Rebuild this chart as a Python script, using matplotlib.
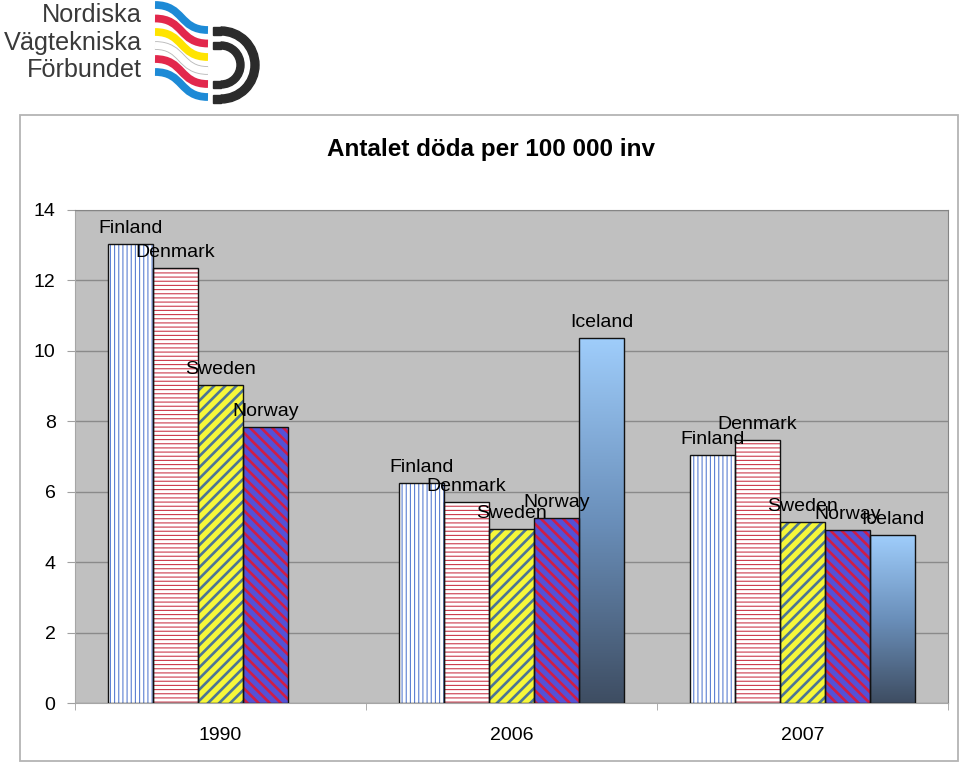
import numpy as np
import matplotlib
matplotlib.use("Agg")
import matplotlib.pyplot as plt
from matplotlib.patches import Rectangle, Wedge, PathPatch
from matplotlib.path import Path
from matplotlib.colors import LinearSegmentedColormap

plt.rcParams['font.family'] = ['Liberation Sans', 'DejaVu Sans']

# data
years = ['1990', '2006', '2007']
countries = ['Finland', 'Denmark', 'Sweden', 'Norway', 'Iceland']
finland = [13.03, 6.26, 7.05]
denmark = [12.35, 5.72, 7.47]
sweden = [9.04, 4.93, 5.14]
norway = [7.85, 5.25, 4.91]
iceland = [np.nan, 10.36, 4.77]
series = [finland, denmark, sweden, norway, iceland]

# styles: face, hatch, hatch colour, hatch width
styles = [
    ('white', '||||', '#5b7fd2', 0.8),
    ('white', '----', '#cc3a4c', 0.8),
    ('#f6f73a', '///', '#4d7596', 1.9),
    ('#5451d6', '\\\\\\', '#cf1d46', 1.9),
    (None, None, None, None),
]

fig = plt.figure(figsize=(9.6, 7.64), dpi=100)

# background layer: logo + chart frame (pixel coords)
bg = fig.add_axes([0, 0, 1, 1], zorder=0)
bg.set_xlim(0, 960)
bg.set_ylim(764, 0)
bg.axis('off')
bg.add_patch(Rectangle((20, 115), 938, 646, facecolor='white', edgecolor='#b4b4b4', lw=1.3))

for txt, yb in [('Nordiska', 22), ('Vägtekniska', 50), ('Förbundet', 77)]:
    bg.text(142, yb, txt, ha='right', va='baseline', fontsize=18.2, color='#3a3a3a')

stripe_cols = ['#1d8ad6', '#e2284c', '#ffe400', 'white', '#e2284c', '#1d8ad6']
stripe_y = [5, 18.5, 32, 45.5, 59, 72]
for c, y0 in zip(stripe_cols, stripe_y):
    p = Path([(155, y0), (184, y0), (179, y0 + 25), (208, y0 + 25)],
             [Path.MOVETO, Path.CURVE4, Path.CURVE4, Path.CURVE4])
    if c == 'white':
        bg.add_patch(PathPatch(p, facecolor='none', edgecolor='#bbbbbb', lw=6.3, capstyle='butt'))
        bg.add_patch(PathPatch(p, facecolor='none', edgecolor='white', lw=5.0, capstyle='butt'))
    else:
        bg.add_patch(PathPatch(p, facecolor='none', edgecolor=c, lw=5.6, capstyle='butt'))

dk = '#2b2b2b'
bg.add_patch(Wedge((221, 65), 38, -90, 90, width=8, color=dk))
bg.add_patch(Rectangle((213, 27), 8, 8, color=dk))
bg.add_patch(Rectangle((213, 95), 8, 8, color=dk))
bg.add_patch(Wedge((221, 65), 23, -90, 90, width=7, color=dk))
bg.add_patch(Rectangle((213, 42), 8, 7, color=dk))
bg.add_patch(Rectangle((213, 81), 8, 7, color=dk))

fig.text(0.511, 0.804, 'Antalet döda per 100 000 inv', ha='center', va='center',
         fontsize=17.5, fontweight='bold')

# main chart
ax = fig.add_axes([75 / 960, 61 / 764, 873 / 960, 493 / 764], zorder=1)
ax.set_facecolor('#c0c0c0')

x = np.arange(len(years))
w = 0.155
grad_cmap = LinearSegmentedColormap.from_list('ice', ['#3e4d62', '#6a8fba', '#9fcdfb'])

for i, (name, vals) in enumerate(zip(countries, series)):
    vals = np.array(vals, dtype=float)
    ok = ~np.isnan(vals)
    pos = (x + (i - 2) * w)[ok]
    vals = vals[ok]
    face, hatch, hcol, hlw = styles[i]
    if face is not None:
        with plt.rc_context({'hatch.linewidth': hlw}):
            bars = ax.bar(pos, vals, w, color=face, edgecolor=hcol, hatch=hatch, lw=0, zorder=2)
        for b in bars:
            try:
                b.set_hatch_linewidth(hlw)
            except AttributeError:
                pass
    else:
        grad = np.linspace(0, 1, 256).reshape(-1, 1)
        for p, v in zip(pos, vals):
            ax.imshow(grad, extent=[p - w / 2, p + w / 2, 0, v], origin='lower',
                      aspect='auto', cmap=grad_cmap, zorder=2)
    ax.bar(pos, vals, w, facecolor='none', edgecolor='#111111', lw=1.0, zorder=3)
    for p, v in zip(pos, vals):
        ax.annotate(name, (p, v), xytext=(0, 5), textcoords='offset points',
                    ha='center', va='bottom', fontsize=14, zorder=4)

ax.set_xlim(-0.5, 2.5)
ax.set_ylim(0, 14)
ax.set_yticks(np.arange(0, 15, 2))
ax.set_xticks(x)
ax.set_xticklabels(years)
ax.set_xticks([-0.5, 0.5, 1.5, 2.5], minor=True)
ax.tick_params(axis='x', which='major', length=0, pad=17, labelsize=14)
ax.tick_params(axis='x', which='minor', length=5, color='#a0a0a0')
ax.tick_params(axis='y', length=6, color='#a0a0a0', pad=8, labelsize=14)
ax.yaxis.grid(True, color='#8a8a8a', lw=1)
ax.set_axisbelow(True)
for s in ['top', 'right']:
    ax.spines[s].set_color('#858585')
for s in ['left', 'bottom']:
    ax.spines[s].set_color('#a6a6a6')

fig.savefig('out.png', dpi=100)
